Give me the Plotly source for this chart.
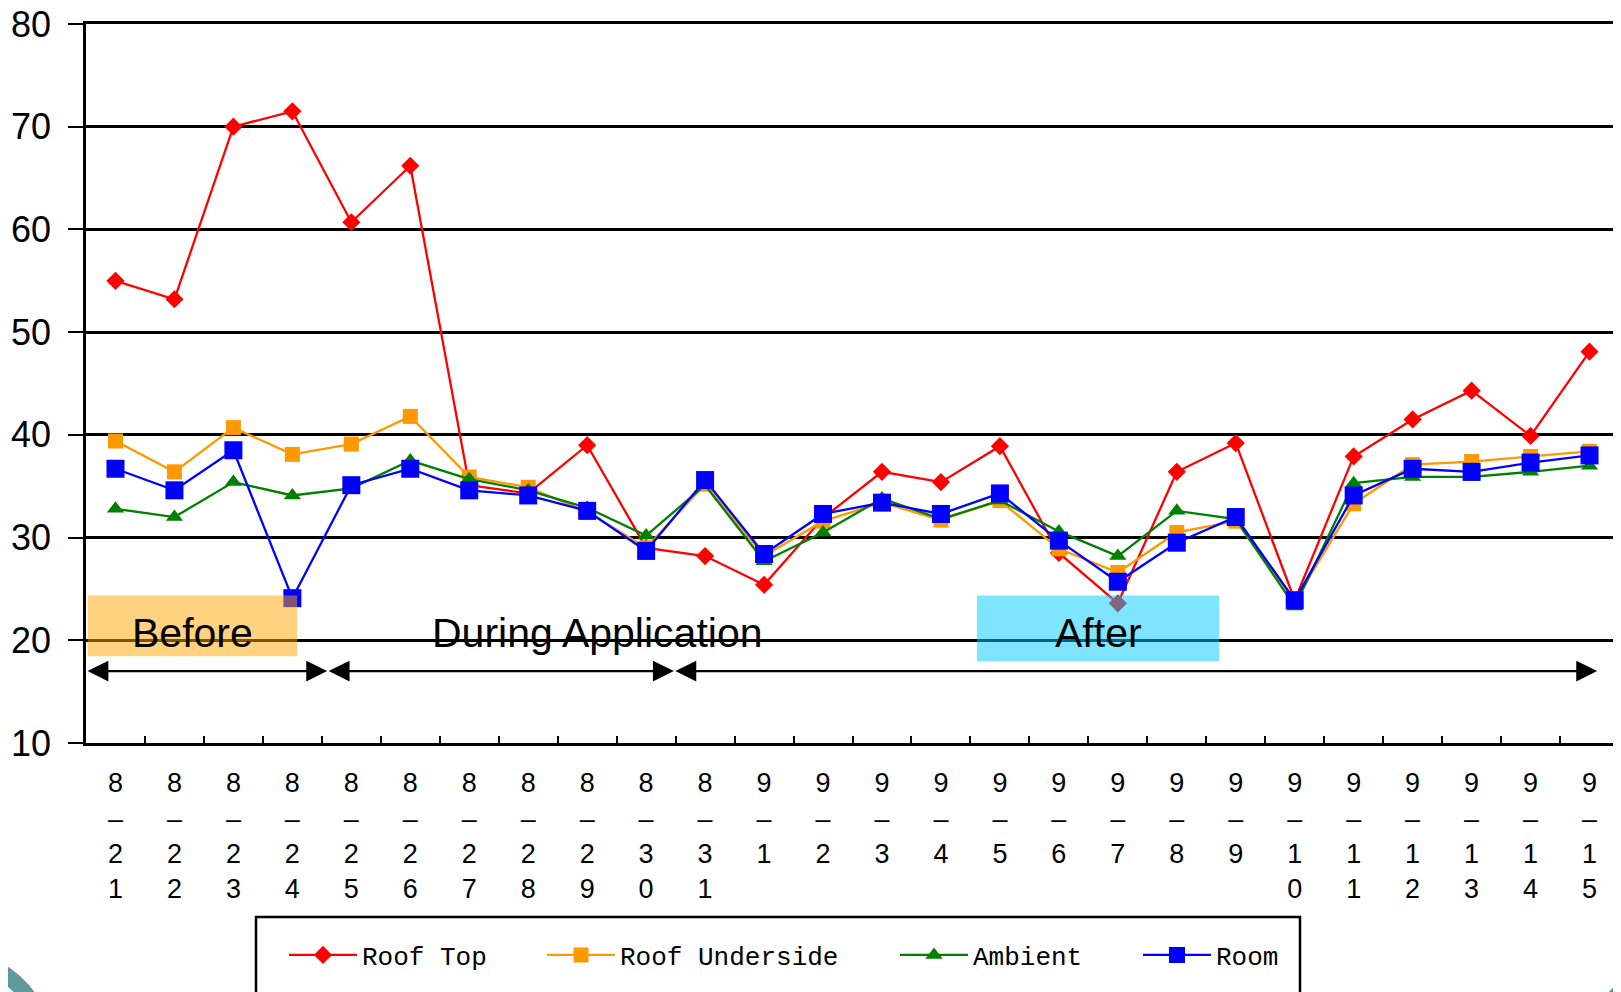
import plotly.graph_objects as go

# ---------------- data ----------------
dates = ["8-21", "8-22", "8-23", "8-24", "8-25", "8-26", "8-27", "8-28", "8-29", "8-30", "8-31",
         "9-1", "9-2", "9-3", "9-4", "9-5", "9-6", "9-7", "9-8", "9-9", "9-10", "9-11", "9-12",
         "9-13", "9-14", "9-15"]

roof_top = [55.0, 53.2, 70.0, 71.5, 60.7, 66.2, 35.1, 34.3, 39.0, 29.0, 28.2, 25.4, 31.9,
            36.4, 35.4, 38.9, 28.5, 23.6, 36.4, 39.2, 23.9, 37.9, 41.5, 44.3, 39.9, 48.1]
roof_underside = [39.4, 36.4, 40.7, 38.1, 39.1, 41.8, 35.9, 34.9, 32.5, 29.0, 35.2, 28.2, 31.6,
                  33.4, 31.7, 33.6, 28.9, 26.6, 30.5, 31.6, 23.8, 33.3, 37.1, 37.4, 37.9, 38.4]
ambient = [32.8, 32.0, 35.4, 34.1, 34.8, 37.5, 35.7, 34.6, 32.9, 30.2, 35.1, 27.7, 30.5,
           33.8, 31.8, 33.6, 30.6, 28.2, 32.6, 31.8, 23.3, 35.3, 35.9, 35.9, 36.4, 37.0]
room = [36.7, 34.6, 38.5, 24.1, 35.1, 36.7, 34.6, 34.1, 32.6, 28.7, 35.6, 28.4, 32.3,
        33.4, 32.3, 34.3, 29.7, 25.7, 29.5, 32.0, 23.9, 34.1, 36.7, 36.4, 37.3, 38.0]

series_names = ["Roof Top", "Roof Underside", "Ambient", "Room"]
y_ticks = [10, 20, 30, 40, 50, 60, 70, 80]

# phase labels / periods (category-index units)
phase_labels = ["Before", "During Application", "After"]
phase_label_x = [1.30, 8.16, 16.67]
phase_label_y = 20.75
periods = [(-0.5, 3.59), (3.59, 9.47), (9.47, 25.13)]
arrow_y = 17.0
before_box = (-0.47, 3.08, 18.45, 24.37)
after_box = (14.61, 18.72, 17.97, 24.37)

# ---------------- figure geometry (page pixels; page body has an 8px margin) ----------------
W, H = 1621, 992
OFF = 8
PLOT_L, PLOT_R, PLOT_T, PLOT_B = 86, 1619, 24, 743
ML = PLOT_L - OFF
MT = PLOT_T - OFF
MR = W - (PLOT_R - OFF)
MB = H - (PLOT_B - OFF)
PW, PH = W - ML - MR, H - MT - MB


def px_x(p):
    return (p - OFF - ML) / PW


def px_y(p):
    return (H - MB - (p - OFF)) / PH


ticktext = ["<br>".join(ch if ch != "-" else "\u2013" for ch in d) for d in dates]

fig = go.Figure()
styles = [
    (roof_top, "#FF0000", "diamond", 14),
    (roof_underside, "#FF9900", "square", 15),
    (ambient, "#008000", "triangle-up", 15),
    (room, "#0000FF", "square", 18),
]
legend_ids = ["legend", "legend2", "legend3", "legend4"]
legend_item_x = [284, 542, 895, 1138]  # page px where each legend entry starts
for name, (vals, col, sym, sz), lid in zip(series_names, styles, legend_ids):
    fig.add_trace(go.Scatter(
        x=dates, y=vals, name=name, mode="lines+markers", legend=lid,
        line=dict(color=col, width=2.3),
        marker=dict(symbol=sym, size=sz, color=col, line=dict(width=0)),
    ))

shapes = []
shapes.append(dict(type="rect", xref="x", yref="y", layer="above",
                   x0=before_box[0], x1=before_box[1], y0=before_box[2], y1=before_box[3],
                   fillcolor="rgba(255,165,0,0.5)", line=dict(width=0)))
shapes.append(dict(type="rect", xref="x", yref="y", layer="above",
                   x0=after_box[0], x1=after_box[1], y0=after_box[2], y1=after_box[3],
                   fillcolor="rgba(0,204,255,0.5)", line=dict(width=0)))
# legend frame (cut by the bottom edge, as in the original)
shapes.append(dict(type="rect", xref="paper", yref="paper", layer="above",
                   x0=px_x(256), x1=px_x(1300), y0=px_y(1010), y1=px_y(917),
                   fillcolor="rgba(0,0,0,0)", line=dict(color="black", width=2.5)))
# slide decorations (teal corners)
bl = [(0, 962), (10, 968), (20, 976), (29, 985), (36, 994), (16, 994), (8, 987), (0, 981)]
shapes.append(dict(type="path", xref="paper", yref="paper", layer="above",
                   path="M " + " L ".join(f"{px_x(a)},{px_y(b)}" for a, b in bl) + " Z",
                   fillcolor="#5f9a9a", line=dict(width=0)))
br = [(1622, 978), (1607, 994), (1622, 994)]
shapes.append(dict(type="path", xref="paper", yref="paper", layer="above",
                   path="M " + " L ".join(f"{px_x(a)},{px_y(b)}" for a, b in br) + " Z",
                   fillcolor="#5f9a9a", line=dict(width=0)))

annotations = []
for txt, xx in zip(phase_labels, phase_label_x):
    annotations.append(dict(x=xx, y=phase_label_y, xref="x", yref="y", text=txt,
                            showarrow=False, font=dict(family="Liberation Sans, Arial", size=41, color="black")))
for a, b in periods:
    annotations.append(dict(x=b, y=arrow_y, ax=a, ay=arrow_y, xref="x", yref="y",
                            axref="x", ayref="y", text="", showarrow=True,
                            arrowhead=2, startarrowhead=2, arrowside="end+start",
                            arrowsize=1.9, startarrowsize=1.9, arrowwidth=2.2,
                            arrowcolor="black", standoff=0, startstandoff=0))

legend_font = dict(family="Liberation Mono, monospace", size=26, color="black")
legend_common = dict(orientation="h", y=px_y(955), yanchor="middle", xanchor="left",
                     font=legend_font, bgcolor="rgba(0,0,0,0)", borderwidth=0, itemwidth=68)
layout_legends = {}
for lid, lx in zip(legend_ids, legend_item_x):
    layout_legends[lid] = dict(legend_common, x=px_x(lx))

fig.update_layout(
    width=W, height=H,
    margin=dict(l=ML, r=MR, t=MT, b=MB, autoexpand=False),
    paper_bgcolor="white", plot_bgcolor="white",
    showlegend=True,
    shapes=shapes, annotations=annotations,
    **layout_legends,
)
fig.update_xaxes(
    type="category", categoryorder="array", categoryarray=dates,
    tickmode="array", tickvals=dates, ticktext=ticktext,
    range=[-0.5, len(dates) - 0.5],
    showgrid=False, showline=True, linecolor="black", linewidth=3,
    ticks="inside", ticklen=7, tickwidth=2, tickcolor="black", tickson="boundaries",
    tickfont=dict(family="Liberation Sans, Arial", size=27, color="black"),
    ticklabelstandoff=14, mirror=True, zeroline=False, ticklabeloverflow="allow",
)
fig.update_yaxes(
    range=[10, 80], tickmode="array", tickvals=y_ticks, ticktext=[str(v) for v in y_ticks],
    showgrid=True, gridcolor="black", gridwidth=2.5,
    showline=True, linecolor="black", linewidth=2.5, mirror=True,
    ticks="outside", ticklen=15, tickwidth=2, tickcolor="black",
    tickfont=dict(family="Liberation Sans, Arial", size=36, color="black"),
    ticklabelstandoff=10, zeroline=False, ticklabeloverflow="allow",
)

fig.write_html("out.html")
